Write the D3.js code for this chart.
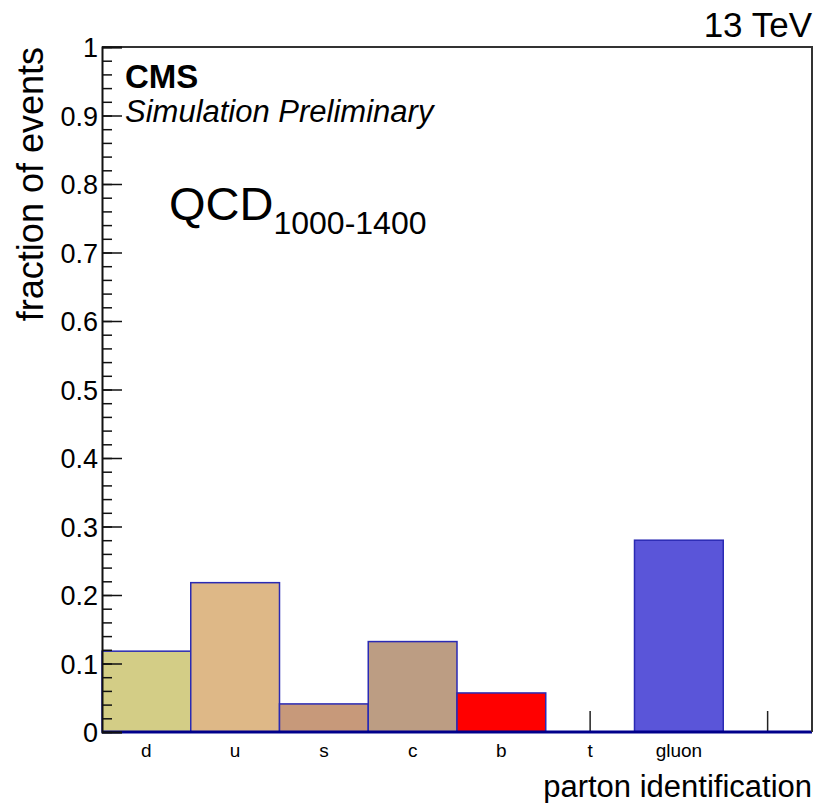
<!DOCTYPE html>
<html>
<head>
<meta charset="utf-8">
<script src="https://cdn.jsdelivr.net/npm/d3@7"></script>
<style>
  html, body { margin: 0; padding: 0; background: #fff; }
  svg text { font-family: "Liberation Sans", Arial, Helvetica, sans-serif; fill: #000; }
</style>
</head>
<body>
<svg id="chart" width="818" height="803"></svg>
<script>
// Parton flavour fractions, QCD sample with HT 1000-1400
const partons = ["d", "u", "s", "c", "b", "t", "gluon", ""];
const fractions = [0.118, 0.218, 0.041, 0.132, 0.057, 0, 0.280, 0];
const fillColors = ["#d3cd86", "#deb887", "#c7997a", "#bc9d83", "#ff0000", "#ffffff", "#5a55d9", "#ffffff"];
const yMajorTicks = [0, 0.1, 0.2, 0.3, 0.4, 0.5, 0.6, 0.7, 0.8, 0.9, 1];
const yMinorTicks = d3.range(0, 51).map(i => i / 50);

const svg = d3.select("#chart");
const plotLeft = 102, plotRight = 812, plotTop = 47, plotBottom = 732;

const x = d3.scaleBand().domain(d3.range(partons.length)).range([plotLeft, plotRight]).padding(0);
const y = d3.scaleLinear().domain([0, 1]).range([plotBottom, plotTop]);

const bins = fractions.map((v, i) => ({ i, v, color: fillColors[i] }));

// category ticks at bin centres, underneath the bars
svg.append("g").selectAll("line").data(bins).join("line")
  .attr("x1", d => x(d.i) + x.bandwidth() / 2)
  .attr("x2", d => x(d.i) + x.bandwidth() / 2)
  .attr("y1", plotBottom).attr("y2", plotBottom - 21)
  .attr("stroke", "#222").attr("stroke-width", 1.5);

// histogram bars
svg.append("g").selectAll("rect").data(bins.filter(d => d.v > 0)).join("rect")
  .attr("x", d => x(d.i))
  .attr("y", d => y(d.v))
  .attr("width", x.bandwidth())
  .attr("height", d => y(0) - y(d.v))
  .attr("fill", d => d.color)
  .attr("stroke", "#2a2ab4").attr("stroke-width", 1.5);

// histogram outline along zero
svg.append("line")
  .attr("x1", plotLeft).attr("x2", plotRight).attr("y1", plotBottom).attr("y2", plotBottom)
  .attr("stroke", "#00008b").attr("stroke-width", 3);

// frame top and right
svg.append("path")
  .attr("d", `M${plotLeft},${plotTop}H${plotRight}V${plotBottom}`)
  .attr("fill", "none").attr("stroke", "#333").attr("stroke-width", 2);

// y axis: major ticks with labels, minor ticks
const yAxis = svg.append("g").attr("transform", `translate(${plotLeft},0)`)
  .call(d3.axisLeft(y).tickValues(yMajorTicks).tickSize(-20).tickPadding(4)
    .tickFormat(d => d3.format("~g")(d)));
yAxis.select(".domain").attr("stroke", "#111").attr("stroke-width", 2);
yAxis.selectAll(".tick line").attr("stroke", "#111").attr("stroke-width", 1.5);
yAxis.selectAll(".tick text").attr("font-size", 27).attr("dy", "0.36em");

const yMinor = svg.append("g").attr("transform", `translate(${plotLeft},0)`)
  .call(d3.axisLeft(y).tickValues(yMinorTicks).tickSize(-10).tickFormat(""));
yMinor.select(".domain").remove();
yMinor.selectAll(".tick line").attr("stroke", "#111").attr("stroke-width", 1.5);

// category labels
svg.append("g").selectAll("text").data(partons).join("text")
  .attr("x", (d, i) => x(i) + x.bandwidth() / 2)
  .attr("y", 757)
  .attr("text-anchor", "middle")
  .attr("font-size", 19)
  .text(d => d);

// axis titles
svg.append("text")
  .attr("x", plotRight).attr("y", 797)
  .attr("text-anchor", "end").attr("font-size", 31)
  .text("parton identification");

svg.append("text")
  .attr("transform", `translate(43,${plotTop}) rotate(-90)`)
  .attr("text-anchor", "end").attr("font-size", 36)
  .text("fraction of events");

// header and labels
svg.append("text")
  .attr("x", plotRight).attr("y", 37)
  .attr("text-anchor", "end").attr("font-size", 35)
  .text("13 TeV");

svg.append("text")
  .attr("x", 125).attr("y", 88)
  .attr("font-size", 33).attr("font-weight", "bold")
  .text("CMS");

svg.append("text")
  .attr("x", 125).attr("y", 122)
  .attr("font-size", 31).attr("font-style", "italic")
  .text("Simulation Preliminary");

const qcd = svg.append("text")
  .attr("x", 169).attr("y", 220)
  .attr("font-size", 47);
qcd.append("tspan").text("QCD");
qcd.append("tspan").attr("font-size", 32).attr("dy", 14).text("1000-1400");
</script>
</body>
</html>
